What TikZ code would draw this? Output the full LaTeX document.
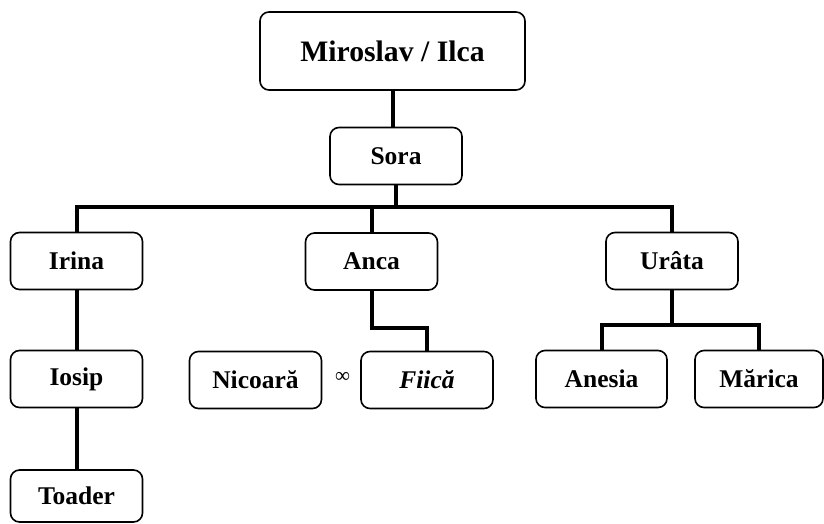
\documentclass[tikz,border=0pt]{standalone}
\usepackage{fontspec}
\setmainfont{Liberation Serif}
\usepackage{tikz}
\usetikzlibrary{calc}
\tikzset{>=latex}
\tikzstyle{person}=[draw,rounded corners=9pt,line width=1.6pt,minimum width=132pt,minimum height=57pt,inner sep=0,font=\fontsize{25.5}{30}\selectfont\bfseries]
\tikzstyle{link}=[line width=4pt]

\begin{document}
\begin{tikzpicture}[x=1pt,y=-1pt]
\useasboundingbox (0,0) rectangle (824,524);

\node[person,minimum width=265pt,minimum height=78pt,font=\fontsize{29.7}{34}\selectfont\bfseries] (miroslav) at (392.5,51) {Miroslav / Ilca};
\node[person] (sora) at (396,156) {Sora};

\node[person] (irina) at (76.5,261) {Irina};
\node[person] (anca) at (371.5,261.5) {Anca};
\node[person] (urata) at (672,261) {Urâta};

\node[person] (iosip) at (76.5,379) {Iosip};
\node[person,minimum height=52pt] (toader) at (76.5,496) {Toader};

\node[person] (nicoara) at (255.5,380) {Nicoară};
\node[person,font=\fontsize{25.5}{30}\selectfont\bfseries\itshape] (fiica) at (427,380) {Fiică};
\node[font=\fontsize{21}{24}\selectfont] (marriage) at (342.5,377) {∞};

\node[person,minimum width=131pt] (anesia) at (601.5,379) {Anesia};
\node[person,minimum width=128pt] (marica) at (759,379) {Mărica};

% lines
\coordinate (bar) at (sora.south |- 0,207);
\draw[link] (miroslav.south) -- (miroslav.south |- sora.north);
\draw[link] (sora.south) -- (bar);
\draw[link] (irina.north) |- (bar) -| (urata.north);
\draw[link] (anca.north) -- (anca.north |- bar);

\draw[link] (irina.south) -- (iosip.north);
\draw[link] (iosip.south) -- (toader.north);

\draw[link] (anca.south) |- (fiica.north |- 0,328) -- (fiica.north);

\coordinate (urbar) at (urata.south |- 0,325);
\draw[link] (urata.south) -- (urbar);
\draw[link] (anesia.north) |- (urbar) -| (marica.north);
\end{tikzpicture}
\end{document}
